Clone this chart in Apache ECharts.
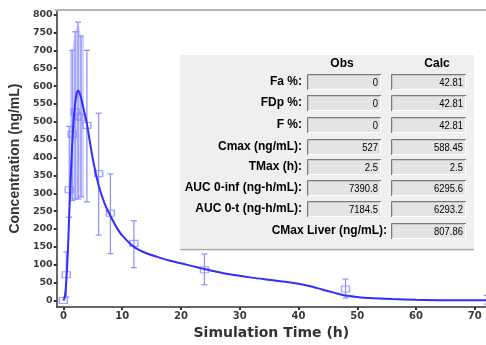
<!DOCTYPE html>
<html><head><meta charset="utf-8">
<script src="https://cdn.jsdelivr.net/npm/echarts@6/dist/echarts.min.js"></script>
<style>html,body{margin:0;padding:0;background:#fff}#c{width:486px;height:345px}</style>
</head><body><div id="c"></div>
<script>
// ---- data ----
var calcTimes  = [0,0.25,0.5,0.75,1,1.25,1.5,1.75,2,2.25,2.5,2.75,3,3.5,4,4.5,5,5.5,6,7,8,9,10,12,14,16,18,20,24,28,32,36,40,42,44,46,48,50,52,56,60,64,68,72];
var calcValues = [0,10,55,130,240,345,435,505,552,578,588,582,568,532,495,445,397,357,322,272,237,206,182,150,133,122,112,104,88,74,64,56,47,40,31,22,14,10,7,4,2,1,1,1];

var obsTimes = [0,0.5,1,1.5,2,2.5,3,4,6,8,12,24,48,72];
var obsMean  = [0,72,310,465,528,516,512,490,355,244,160,86,32,2];
var obsLow   = [0,10,233,280,284,284,290,276,183,131,92,44,7,-10];
var obsHigh  = [0,136,487,700,752,779,740,700,524,354,223,130,60,14];

var bandTimes = [1.1,1.5,2,2.5,3,3.5];
var bandHigh  = [700,700,752,779,740,740];
var bandLow   = [288,280,284,284,290,285];

var xTicks = [0,10,20,30,40,50,60,70];
var yTicks = [0,50,100,150,200,250,300,350,400,450,500,550,600,650,700,750,800];

var statHeaders = ['Obs','Calc'];
var statLabels  = ['Fa %:','FDp %:','F %:','Cmax (ng/mL):','TMax (h):','AUC 0-inf (ng-h/mL):','AUC 0-t (ng-h/mL):'];
var statObs     = ['0','0','0','527','2.5','7390.8','7184.5'];
var statCalc    = ['42.81','42.81','42.81','588.45','2.5','6295.6','6293.2'];
var liverLabel  = 'CMax Liver (ng/mL):';
var liverValue  = '807.86';

// ---- build ----
var chart = echarts.init(document.getElementById('c'), null, {renderer:'canvas'});
var curve = calcTimes.map(function(t,i){return [t, calcValues[i]];});
var obs = obsTimes.map(function(t,i){return [t, obsMean[i], obsLow[i], obsHigh[i]];});

var errColor = '#8c8cff';
var lineColor = '#2f2fff';
var bold = 'bold 12px "Liberation Sans", Arial, sans-serif';
var reg = '11px "Liberation Sans", Arial, sans-serif';

var g = [];
// top border
g.push({type:'line', shape:{x1:55,y1:10,x2:486,y2:10}, style:{stroke:'#b4b4b4', lineWidth:2}, z:1});
// panel
g.push({type:'rect', shape:{x:180,y:55,width:294,height:193}, style:{fill:'#efefef'}, z:100});
g.push({type:'line', shape:{x1:180,y1:249.5,x2:474,y2:249.5}, style:{stroke:'#a8a8a8', lineWidth:1.5}, z:100});
g.push({type:'text', x:342, y:64, style:{text:statHeaders[0], font:bold, fill:'#000', align:'center', verticalAlign:'middle'}, z:101});
g.push({type:'text', x:437, y:64, style:{text:statHeaders[1], font:bold, fill:'#000', align:'center', verticalAlign:'middle'}, z:101});
function box(x, yc, w, val){
  var y = yc - 8;
  g.push({type:'rect', shape:{x:x,y:y,width:w,height:16}, style:{fill:'#e4e4e4'}, z:101});
  g.push({type:'polyline', shape:{points:[[x+0.5,y+16],[x+0.5,y+0.5],[x+w,y+0.5]]}, style:{stroke:'#7a7a7a', lineWidth:1, fill:null}, z:102});
  g.push({type:'polyline', shape:{points:[[x+1.5,y+15],[x+1.5,y+1.5],[x+w-1,y+1.5]]}, style:{stroke:'#c8c8c8', lineWidth:1, fill:null}, z:102});
  g.push({type:'polyline', shape:{points:[[x+1,y+15.5],[x+w-0.5,y+15.5],[x+w-0.5,y+1]]}, style:{stroke:'#ffffff', lineWidth:1, fill:null}, z:102});
  g.push({type:'text', x:x+w-3, y:yc+1, scaleX:0.86, style:{text:val, font:reg, fill:'#000', align:'right', verticalAlign:'middle'}, z:103});
}
var rowY = [82,103,125,147,167,188,209];
for (var i=0;i<statLabels.length;i++){
  g.push({type:'text', x:302, y:rowY[i], style:{text:statLabels[i], font:bold, fill:'#000', align:'right', verticalAlign:'middle'}, z:101});
  box(307, rowY[i], 74, statObs[i]);
  box(391, rowY[i], 75, statCalc[i]);
}
g.push({type:'text', x:387, y:231, style:{text:liverLabel, font:bold, fill:'#000', align:'right', verticalAlign:'middle'}, z:101});
box(391, 231, 75, liverValue);

var axisLabelFont = {fontFamily:'"DejaVu Sans", sans-serif', fontWeight:'bold', fontSize:10, color:'#3a3a3a'};

chart.setOption({
  animation:false,
  backgroundColor:'#ffffff',
  grid:{left:55, right:-2, top:10, bottom:34, containLabel:false},
  xAxis:{
    type:'value', min:-1.13, max:71.9,
    name:'Simulation Time (h)', nameLocation:'middle', nameGap:13,
    nameTextStyle:{fontFamily:'"DejaVu Sans", sans-serif', fontWeight:'bold', fontSize:14, color:'#333'},
    axisLine:{show:true, onZero:false, lineStyle:{color:'#333', width:1.5}},
    axisTick:{show:true, customValues:xTicks, length:3, lineStyle:{color:'#333', width:2}},
    axisLabel:Object.assign({customValues:xTicks, margin:4}, axisLabelFont),
    splitLine:{show:false}
  },
  yAxis:{
    type:'value', min:-18.5, max:813,
    name:'Concentration (ng/mL)', nameLocation:'middle', nameGap:30, nameRotate:90,
    nameTextStyle:{fontFamily:'"Liberation Sans", Arial, sans-serif', fontWeight:'bold', fontSize:14, color:'#333'},
    axisLine:{show:true, onZero:false, lineStyle:{color:'#333', width:1.5}},
    axisTick:{show:true, customValues:yTicks, length:3, lineStyle:{color:'#333', width:2}},
    axisLabel:Object.assign({customValues:yTicks, margin:4}, axisLabelFont, {fontSize:9.5}),
    splitLine:{show:false}
  },
  graphic:g,
  series:[
    {
      type:'custom', name:'band', z:2, silent:true,
      data:[[0,0]],
      renderItem:function(params, api){
        var pts = [];
        for (var i=0;i<bandTimes.length;i++) pts.push(api.coord([bandTimes[i], bandHigh[i]]));
        for (var j=bandTimes.length-1;j>=0;j--) pts.push(api.coord([bandTimes[j], bandLow[j]]));
        return {type:'polygon', shape:{points:pts}, style:{fill:'rgba(140,140,255,0.38)', stroke:null}};
      }
    },
    {
      type:'custom', name:'err', z:3, silent:true,
      data:obs,
      renderItem:function(params, api){
        var x = api.value(0);
        var lo = api.coord([x, api.value(2)]);
        var hi = api.coord([x, api.value(3)]);
        if (api.value(2) === api.value(3)) return null;
        var cw = 3;
        return {type:'group', children:[
          {type:'line', shape:{x1:lo[0],y1:lo[1],x2:hi[0],y2:hi[1]}, style:{stroke:errColor, lineWidth:1.2}},
          {type:'line', shape:{x1:lo[0]-cw,y1:lo[1],x2:lo[0]+cw,y2:lo[1]}, style:{stroke:errColor, lineWidth:1.2}},
          {type:'line', shape:{x1:hi[0]-cw,y1:hi[1],x2:hi[0]+cw,y2:hi[1]}, style:{stroke:errColor, lineWidth:1.2}}
        ]};
      }
    },
    {
      type:'scatter', name:'Obs', z:4, symbol:'rect', symbolSize:[8,6],
      data:obs.map(function(d){return [d[0], d[1]];}),
      itemStyle:{color:'rgba(255,255,255,0)', borderColor:errColor, borderWidth:1.3}
    },
    {
      type:'line', name:'Calc', z:5, data:curve, smooth:0.3, showSymbol:false,
      lineStyle:{color:lineColor, width:2}
    }
  ]
});
</script></body></html>
